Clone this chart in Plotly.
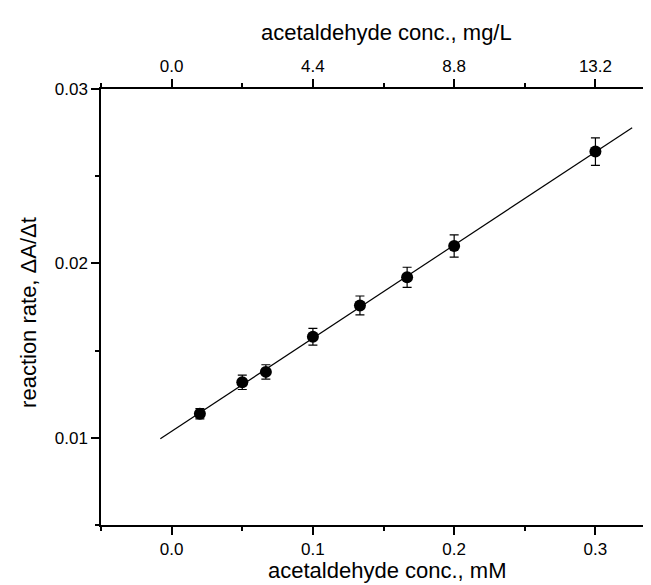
import numpy as np
import plotly.graph_objects as go

# data
conc_mM = [0.02, 0.05, 0.0667, 0.1, 0.1333, 0.1667, 0.2, 0.3]
rate = [0.01138, 0.01318, 0.01378, 0.01579, 0.01759, 0.0192, 0.0210, 0.02641]
rate_err = [0.0003, 0.00041, 0.00041, 0.00048, 0.00054, 0.00058, 0.00064, 0.00079]
fit_x_span = [-0.008, 0.326]
mg_per_mM = 44.0
x_range = [-0.05, 0.345]
y_range = [0.005, 0.03]
bottom_ticks = [0.0, 0.1, 0.2, 0.3]
top_ticks = [0.0, 4.4, 8.8, 13.2]
left_ticks = [0.01, 0.02, 0.03]

slope, intercept = np.polyfit(conc_mM, rate, 1)
fit_x = np.array(fit_x_span)
fit_y = slope * fit_x + intercept

FONT = "Arial, Liberation Sans, sans-serif"
TICK_SIZE = 17
TITLE_SIZE = 22

fig = go.Figure()
fig.add_trace(go.Scatter(x=fit_x, y=fit_y, mode="lines",
                         line=dict(color="black", width=1.2), showlegend=False))
fig.add_trace(go.Scatter(x=conc_mM, y=rate, mode="markers",
                         marker=dict(color="black", size=12, symbol="circle"),
                         error_y=dict(type="data", array=rate_err, color="black",
                                      thickness=1.2, width=4.5),
                         showlegend=False))
# invisible trace to activate top axis
fig.add_trace(go.Scatter(x=[v * mg_per_mM for v in x_range], y=[None, None],
                         xaxis="x2", mode="lines", showlegend=False, hoverinfo="skip"))

axis_common = dict(showline=True, linecolor="black", linewidth=1.5,
                   ticks="outside", ticklen=8, tickwidth=1.5, tickcolor="black",
                   showgrid=False, zeroline=False,
                   tickfont=dict(family=FONT, size=TICK_SIZE, color="black"),
                   mirror=False)

fig.update_layout(
    width=651, height=585,
    margin=dict(l=93, r=0, t=81, b=68),
    plot_bgcolor="white", paper_bgcolor="white",
    font=dict(family=FONT, color="black"),
    xaxis=dict(range=x_range, tickvals=bottom_ticks, tickformat=".1f",
               minor=dict(dtick=0.05, tick0=0, ticks="outside", ticklen=4.5,
                          tickwidth=1.5, tickcolor="black"),
               **axis_common),
    xaxis2=dict(range=[v * mg_per_mM for v in x_range], overlaying="x", side="top",
                anchor="y", tickvals=top_ticks, tickformat=".1f",
                minor=dict(dtick=2.2, tick0=0, ticks="outside", ticklen=4.5,
                           tickwidth=1.5, tickcolor="black"),
                **axis_common),
    yaxis=dict(range=y_range, tickvals=left_ticks, tickformat=".2f",
               minor=dict(dtick=0.005, tick0=0, ticks="outside", ticklen=4.5,
                          tickwidth=1.5, tickcolor="black"),
               **axis_common),
    annotations=[
        dict(text="acetaldehyde conc., mM", xref="paper", yref="paper",
             x=0.5125, y=-0.1055, xanchor="center", yanchor="middle",
             showarrow=False, font=dict(family=FONT, size=TITLE_SIZE, color="black")),
        dict(text="acetaldehyde conc., mg/L", xref="paper", yref="paper",
             x=0.5125, y=1.1307, xanchor="center", yanchor="middle",
             showarrow=False, font=dict(family=FONT, size=TITLE_SIZE, color="black")),
        dict(text="reaction rate, ΔA/Δt", xref="paper", yref="paper",
             x=-0.131, y=0.4885, xanchor="center", yanchor="middle", textangle=-90,
             showarrow=False, font=dict(family=FONT, size=TITLE_SIZE, color="black")),
    ],
)

fig.write_html("out.html")
